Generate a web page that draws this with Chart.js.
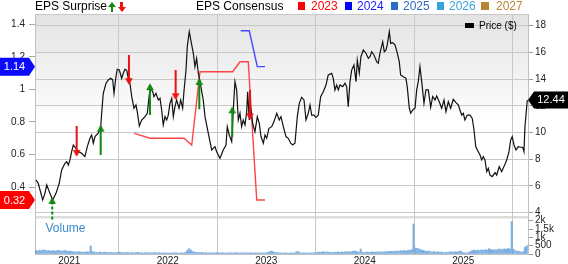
<!DOCTYPE html>
<html><head><meta charset="utf-8">
<script src="https://cdn.jsdelivr.net/npm/chart.js@4.4.1/dist/chart.umd.min.js"></script>
<style>
html,body{margin:0;padding:0;background:#fff;overflow:hidden;}
#wrap{position:relative;width:568px;height:264px;overflow:hidden;font-family:"Liberation Sans",Arial,Helvetica,sans-serif;color:#000;}
canvas{position:absolute;left:0;top:0;}
.t{position:absolute;white-space:nowrap;line-height:13px;font-size:12px;top:0;}
.sq{position:absolute;top:2px;width:7.5px;height:8px;}
.ua,.da{position:absolute;width:8px;height:10px;}
.ua::before{content:"";position:absolute;left:0;top:0;border-left:4px solid transparent;border-right:4px solid transparent;border-bottom:5px solid #118811;}
.ua::after{content:"";position:absolute;left:2.6px;top:4.8px;width:2.8px;height:5.2px;background:#118811;}
.da::before{content:"";position:absolute;left:0;top:5px;border-left:4px solid transparent;border-right:4px solid transparent;border-top:5px solid #ee1111;}
.da::after{content:"";position:absolute;left:2.6px;top:0;width:2.8px;height:5.2px;background:#ee1111;}
</style></head>
<body><div id="wrap">
<canvas id="c" width="568" height="264"></canvas>
<div class="t" style="left:35px;">EPS Surprise</div>
<div class="ua" style="left:108px;top:2px"></div>
<div class="da" style="left:117.5px;top:2px"></div>
<div class="t" style="left:196px;">EPS Consensus</div>
<div class="sq" style="left:297.5px;background:#ff0000"></div><div class="t" style="left:311px;color:#ff0000">2023</div>
<div class="sq" style="left:344.5px;background:#0000ff"></div><div class="t" style="left:357px;color:#1a1aff">2024</div>
<div class="sq" style="left:390.5px;background:#2a6cc0"></div><div class="t" style="left:403px;color:#2a6cc0">2025</div>
<div class="sq" style="left:436.5px;background:#36a3da"></div><div class="t" style="left:449px;color:#36a3da">2026</div>
<div class="sq" style="left:481px;background:#b8862e"></div><div class="t" style="left:496px;color:#b8862e">2027</div>
<div style="position:absolute;left:464.5px;top:23px;width:9.5px;height:4.5px;background:#000"></div>
<div class="t" style="left:479px;top:18.7px;font-size:10px">Price ($)</div>
<div class="t" style="left:45.5px;top:222.3px;color:#3c87c9">Volume</div>
</div>
<script>
// ---------- data ----------
const yearTicks = [2021, 2022, 2023, 2024, 2025];
const epsTicks = [0.4, 0.6, 0.8, 1, 1.2, 1.4];
const priceTicks = [4, 6, 8, 10, 12, 14, 16, 18];
const volumeTicks = [0, 500, 1000, 1500, 2000];
const volumeTickLabels = ['0', '500', '1k', '1.5k', '2k'];

const priceDates = [2020.662,2020.685,2020.730,2020.753,2020.771,2020.797,2020.831,2020.865,2020.898,2020.923,2020.956,2020.974,2020.990,2021.007,2021.024,2021.041,2021.068,2021.091,2021.126,2021.159,2021.183,2021.210,2021.227,2021.244,2021.261,2021.294,2021.319,2021.329,2021.345,2021.373,2021.396,2021.420,2021.441,2021.454,2021.474,2021.487,2021.508,2021.532,2021.548,2021.565,2021.583,2021.599,2021.616,2021.634,2021.657,2021.677,2021.690,2021.711,2021.735,2021.769,2021.792,2021.812,2021.826,2021.847,2021.860,2021.880,2021.904,2021.921,2021.938,2021.954,2021.972,2021.989,2022.005,2022.022,2022.040,2022.056,2022.073,2022.090,2022.114,2022.131,2022.151,2022.164,2022.185,2022.198,2022.218,2022.243,2022.259,2022.276,2022.293,2022.310,2022.327,2022.360,2022.378,2022.411,2022.446,2022.479,2022.496,2022.530,2022.563,2022.591,2022.604,2022.624,2022.649,2022.665,2022.682,2022.699,2022.716,2022.733,2022.750,2022.766,2022.784,2022.801,2022.811,2022.827,2022.842,2022.862,2022.885,2022.909,2022.929,2022.946,2022.970,2022.987,2023.004,2023.027,2023.055,2023.078,2023.106,2023.132,2023.149,2023.173,2023.200,2023.223,2023.248,2023.268,2023.291,2023.315,2023.335,2023.359,2023.383,2023.403,2023.426,2023.444,2023.461,2023.484,2023.505,2023.528,2023.552,2023.579,2023.606,2023.629,2023.664,2023.680,2023.697,2023.715,2023.731,2023.748,2023.776,2023.799,2023.816,2023.832,2023.850,2023.867,2023.890,2023.911,2023.924,2023.944,2023.961,2023.985,2024.012,2024.036,2024.053,2024.070,2024.093,2024.121,2024.137,2024.154,2024.182,2024.198,2024.215,2024.228,2024.249,2024.263,2024.283,2024.307,2024.330,2024.350,2024.364,2024.391,2024.418,2024.431,2024.452,2024.466,2024.486,2024.510,2024.527,2024.543,2024.560,2024.578,2024.601,2024.621,2024.645,2024.669,2024.689,2024.713,2024.730,2024.756,2024.781,2024.804,2024.824,2024.848,2024.872,2024.898,2024.926,2024.949,2024.966,2024.984,2025.000,2025.017,2025.041,2025.068,2025.091,2025.109,2025.126,2025.152,2025.170,2025.187,2025.203,2025.220,2025.238,2025.254,2025.271,2025.294,2025.322,2025.339,2025.365,2025.390,2025.413,2025.441,2025.464,2025.481,2025.497,2025.515,2025.535,2025.558,2025.583,2025.603,2025.616,2025.626,2025.650];
const priceValues = [6.45,6.2,4.95,5.45,6.08,5.58,4.95,5.45,6.2,7.2,7.7,7.82,7.57,7.95,8.57,9.07,8.82,8.57,8.45,8.2,8.95,9.57,9.82,9.2,9.7,9.95,10.44,11.44,12.94,13.69,13.94,14.06,13.94,12.94,14.18,14.74,14.68,14.06,14.44,14.74,14.68,14.06,13.69,12.69,11.82,12.07,11.56,10.49,10.94,11.19,11.44,12.81,13.31,13.06,12.69,12.94,12.44,12.56,11.69,10.57,11.19,10.94,11.31,12.19,12.56,11.19,11.94,12.44,11.82,12.44,11.82,13.06,14.68,16.43,17.55,16.56,15.94,14.93,15.56,14.44,13.81,12.44,11.19,9.95,8.7,8.95,8.57,8.07,8.7,9.07,10.44,9.82,9.32,11.69,13.81,13.19,10.94,11.44,10.44,10.94,10.57,11.56,13.06,10.94,11.82,10.69,10.07,11.19,10.69,9.7,9.2,9.82,9.57,10.32,10.44,10.82,11.44,10.94,11.19,10.44,9.7,9.57,9.2,9.07,9.2,11.19,12.19,12.64,12.44,10.94,11.44,12.07,11.31,11.31,11.14,11.31,12.69,13.06,13.56,14.31,14.44,14.06,13.19,13.56,13.19,13.56,13.44,13.69,13.44,11.94,13.81,14.68,15.06,13.81,15.43,14.44,15.68,16.18,15.94,15.56,15.68,16.05,15.81,15.31,15.19,15.94,16.8,16.05,16.18,16.56,17.55,16.68,16.73,16.56,15.94,15.31,14.31,14.18,14.06,13.44,11.82,11.44,11.69,11.82,13.19,13.81,14.93,13.81,12.19,13.19,13.19,11.89,12.69,12.44,12.74,12.31,11.82,12.44,11.56,12.31,11.82,12.49,12.24,12.07,11.69,11.31,11.44,10.94,11.31,11.31,11.06,10.19,8.95,8.57,8.32,7.95,8.2,7.95,7.07,7.32,6.82,6.7,7.0,6.82,7.45,7.07,7.45,7.95,8.57,9.45,9.7,9.07,8.7,8.95,8.9,8.9,8.57,10.44,12.44];
const lastPrice = 12.44;

const cons2023Dates = [2021.660, 2021.819, 2022.164, 2022.243, 2022.327, 2022.659, 2022.733, 2022.817, 2022.903, 2022.987];
const cons2023Values = [0.730, 0.700, 0.700, 0.658, 1.109, 1.109, 1.170, 1.170, 0.320, 0.320];
const cons2024Dates = [2022.740, 2022.827, 2022.909, 2022.987];
const cons2024Values = [1.361, 1.361, 1.140, 1.140];

const surpriseDates = [2020.827, 2021.075, 2021.319, 2021.606, 2021.819, 2022.080, 2022.320, 2022.655, 2022.835];
const surpriseConsensus = [0.20, 0.775, 0.597, 1.211, 0.843, 1.119, 0.878, 0.709, 0.996];
const surpriseActual = [0.327, 0.597, 0.771, 1.038, 1.027, 0.945, 1.058, 0.884, 0.822];

const volumeStart = 2020.662; // first weekly bar
const volumeValues = [
220,180,240,200,250,230,190,210,170,200,
180,200,220,190,170,210,200,160,180,150,
140,120,130,150,110,120,100,130,120,480,
150,110,100,90,120,80,100,110,90,80,
100,70,90,80,110,90,70,80,100,80,
70,90,60,80,100,70,80,60,90,70,
80,60,70,90,60,80,70,60,80,60,
60,50,70,60,80,60,50,70,60,90,
200,320,240,150,120,100,90,80,100,70,
80,60,70,80,60,70,90,60,70,80,
60,70,60,80,60,70,90,60,70,60,
80,60,70,60,80,60,70,60,80,60,
70,60,80,100,150,170,120,90,80,70,
60,50,70,60,50,60,70,60,150,140,
80,60,70,60,50,70,60,80,60,100,
120,100,140,110,130,120,100,90,110,100,
120,100,130,110,150,120,140,130,170,180,
150,110,300,100,90,120,110,100,130,110,
120,130,110,140,120,130,150,140,160,150,
170,180,160,200,190,210,180,230,220,260,
1800,360,340,300,250,220,190,160,180,140,
120,150,110,130,100,120,80,110,90,120,
130,110,140,120,150,180,100,80,60,90,
140,200,230,210,240,200,250,220,260,240,
320,270,230,260,240,290,300,260,310,290,
330,300,1950,280,190,170,150,120,130,400,500];

const lastCons2023 = 0.32;
const lastCons2024 = 1.14;

// ---------- build ----------
const FONT = '"Liberation Sans", Arial, Helvetica, sans-serif';
const WEEK = 7 / 365.25;
const EPS_PANE_FLOOR = 0.225; // EPS value at bottom of price pane

function pts(xs, ys) {
  const n = Math.min(xs.length, ys.length), a = [];
  for (let i = 0; i < n; i++) a.push({x: xs[i], y: ys[i]});
  return a;
}
const volumeData = volumeValues.map((v, i) => ({x: volumeStart + i * WEEK, y: v}));

const beatShaft = [], missShaft = [], dashShaft = [], beatHeads = [], missHeads = [];
surpriseDates.forEach((d, i) => {
  const from = surpriseConsensus[i], to = surpriseActual[i], beat = to > from;
  const seg = [{x: d, y: from}, {x: d, y: to}, {x: d, y: null}];
  if (from < EPS_PANE_FLOOR) dashShaft.push(...seg);
  else (beat ? beatShaft : missShaft).push(...seg);
  (beat ? beatHeads : missHeads).push({x: d, y: to});
});

function headImg(color) {
  const c = document.createElement('canvas');
  c.width = 16; c.height = 16;
  const g = c.getContext('2d');
  g.fillStyle = color;
  g.beginPath(); g.moveTo(8, 6.3); g.lineTo(11.8, 13); g.lineTo(4.2, 13); g.closePath(); g.fill();
  return c;
}
const GREEN = '#118811', RED = '#ee1111';

const bgPlugin = {
  id: 'bg',
  beforeDraw(chart) {
    const {ctx, chartArea: a} = chart;
    const p = chart.scales.yPrice, v = chart.scales.yVol;
    ctx.save();
    const gr = ctx.createLinearGradient(0, p.top, 0, p.bottom);
    gr.addColorStop(0, '#e3e3e3');
    gr.addColorStop(0.55, '#ffffff');
    gr.addColorStop(1, '#ffffff');
    ctx.fillStyle = gr;
    ctx.fillRect(a.left, p.top, a.right - a.left, p.bottom - p.top);
    ctx.fillStyle = '#dedede';
    ctx.fillRect(a.left, v.top, a.right - a.left, 2.5);
    ctx.strokeStyle = '#c8c8c8';
    ctx.lineWidth = 1;
    ctx.beginPath(); ctx.moveTo(a.left, a.top + 0.5); ctx.lineTo(a.right, a.top + 0.5); ctx.stroke();
    ctx.restore();
  }
};

function leftTag(ctx, y, color, text, tipX) {
  const h = 18, body = tipX - 6;
  ctx.fillStyle = color;
  ctx.beginPath();
  ctx.moveTo(0, y - h / 2); ctx.lineTo(body, y - h / 2); ctx.lineTo(tipX, y);
  ctx.lineTo(body, y + h / 2); ctx.lineTo(0, y + h / 2); ctx.closePath(); ctx.fill();
  ctx.fillStyle = '#fff'; ctx.font = '11px ' + FONT;
  ctx.textAlign = 'center'; ctx.textBaseline = 'middle';
  ctx.fillText(text, body / 2, y + 0.5);
}
function rightTag(ctx, y, color, text, tipX, w) {
  const h = 17, body = tipX + 6;
  ctx.fillStyle = color;
  ctx.beginPath();
  ctx.moveTo(w, y - h / 2); ctx.lineTo(body, y - h / 2); ctx.lineTo(tipX, y);
  ctx.lineTo(body, y + h / 2); ctx.lineTo(w, y + h / 2); ctx.closePath(); ctx.fill();
  ctx.fillStyle = '#fff'; ctx.font = '11px ' + FONT;
  ctx.textAlign = 'center'; ctx.textBaseline = 'middle';
  ctx.fillText(text, (body + w) / 2, y + 0.5);
}
const tagPlugin = {
  id: 'tags',
  afterDraw(chart) {
    const {ctx, chartArea: a} = chart;
    const e = chart.scales.yEps, p = chart.scales.yPrice;
    ctx.save();
    leftTag(ctx, e.getPixelForValue(lastCons2024), '#0a0aff', lastCons2024.toFixed(2), a.left);
    leftTag(ctx, e.getPixelForValue(lastCons2023), '#ff0000', lastCons2023.toFixed(2), a.left);
    rightTag(ctx, p.getPixelForValue(lastPrice), '#000000', lastPrice.toFixed(2), a.right, chart.width);
    ctx.restore();
  }
};

const tickFont = {family: FONT, size: 10};

new Chart(document.getElementById('c'), {
  type: 'line',
  data: {
    datasets: [
      {label: 'beat heads', data: beatHeads, yAxisID: 'yEps', showLine: false, pointStyle: headImg(GREEN), pointRotation: 0, pointRadius: 4, order: 0},
      {label: 'miss heads', data: missHeads, yAxisID: 'yEps', showLine: false, pointStyle: headImg(RED), pointRotation: 180, pointRadius: 4, order: 0},
      {label: 'beat', data: beatShaft, yAxisID: 'yEps', borderColor: GREEN, borderWidth: 2, pointRadius: 0, spanGaps: false, order: 1},
      {label: 'beat dashed', data: dashShaft, yAxisID: 'yEps', borderColor: GREEN, borderWidth: 2, borderDash: [3, 2], pointRadius: 0, spanGaps: false, order: 1},
      {label: 'miss', data: missShaft, yAxisID: 'yEps', borderColor: RED, borderWidth: 2, pointRadius: 0, spanGaps: false, order: 1},
      {label: 'Price ($)', data: pts(priceDates, priceValues), yAxisID: 'yPrice', borderColor: '#111', borderWidth: 1.2, pointRadius: 0, order: 2},
      {label: '2023', data: pts(cons2023Dates, cons2023Values), yAxisID: 'yEps', borderColor: '#ff4545', borderWidth: 1.4, pointRadius: 0, order: 3},
      {label: '2024', data: pts(cons2024Dates, cons2024Values), yAxisID: 'yEps', borderColor: '#4545ff', borderWidth: 1.4, pointRadius: 0, order: 3},
      {type: 'bar', label: 'Volume', data: volumeData, yAxisID: 'yVol', backgroundColor: 'rgba(95,158,218,0.8)', barThickness: 1.4, order: 4}
    ]
  },
  options: {
    responsive: false,
    devicePixelRatio: 1,
    animation: false,
    events: [],
    layout: {padding: {top: 14, left: 0, right: 0, bottom: 0}},
    plugins: {legend: {display: false}, tooltip: {enabled: false}, title: {display: false}},
    scales: {
      x: {
        type: 'linear', position: 'bottom', min: 2020.652, max: 2025.657, offset: false,
        afterBuildTicks: s => { s.ticks = yearTicks.map(v => ({value: v})); },
        afterFit: s => { s.height = 10; },
        ticks: {callback: v => String(v), font: tickFont, color: '#222', padding: 1, maxRotation: 0, autoSkip: false},
        grid: {color: '#c8c8c8', drawTicks: false, lineWidth: 1},
        border: {display: true, color: '#c0c0c0'}
      },
      yEps: {
        type: 'linear', position: 'left', min: -0.0116, max: 1.4635,
        afterBuildTicks: s => { s.ticks = epsTicks.map(v => ({value: v})); },
        afterFit: s => { s.width = 35; },
        ticks: {callback: v => String(v), font: tickFont, color: '#222', padding: 4, autoSkip: false},
        grid: {drawOnChartArea: false, tickLength: 6, color: '#aaaaaa'},
        border: {display: true, color: '#c0c0c0'}
      },
      yPrice: {
        type: 'linear', position: 'right', stack: 'r', stackWeight: 202, weight: 0,
        min: 3.753, max: 18.876,
        afterBuildTicks: s => { s.ticks = priceTicks.map(v => ({value: v})); },
        afterFit: s => { s.width = 40; },
        ticks: {callback: v => String(v), font: tickFont, color: '#222', padding: 2, autoSkip: false},
        grid: {color: '#c8c8c8', tickColor: '#999', tickLength: 5, lineWidth: 1},
        border: {display: true, color: '#c0c0c0'}
      },
      yVol: {
        type: 'linear', position: 'right', stack: 'r', stackWeight: 38, weight: 1,
        min: 0, max: 2280,
        afterBuildTicks: s => { s.ticks = volumeTicks.map(v => ({value: v})); },
        afterFit: s => { s.width = 40; },
        ticks: {callback: (v) => volumeTickLabels[volumeTicks.indexOf(v)], font: tickFont, color: '#222', padding: 2, autoSkip: false},
        grid: {drawOnChartArea: false, tickColor: '#999', tickLength: 5},
        border: {display: true, color: '#c0c0c0'}
      }
    }
  },
  plugins: [bgPlugin, tagPlugin]
});
</script>
</body></html>
